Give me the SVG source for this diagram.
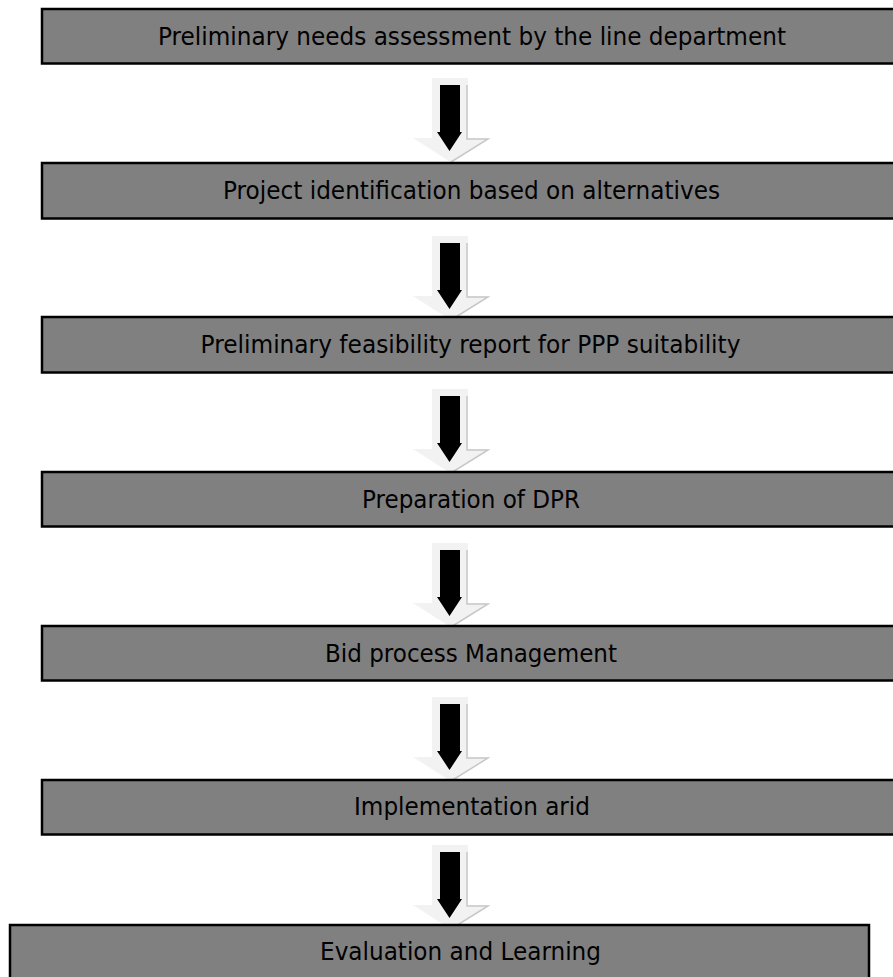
<svg xmlns="http://www.w3.org/2000/svg" width="893" height="977" viewBox="0 0 893 977">
<style>
.box{fill:#808080;stroke:#000;stroke-width:2.5}
.lbl{font-family:"DejaVu Sans",Verdana,sans-serif;font-size:24.5px;fill:#000;text-anchor:middle}
</style>
<defs>
<g id="arrow">
<path d="M19,0 H55 V60 H75 L37.5,84 L0,60 H19 Z" fill="#f2f2f2"/>
<path d="M54,7 V61 L75,61 L38,84" fill="none" stroke="#c8c8c8" stroke-width="1.5"/>
<path d="M27,7 H47 V54 H49 L36.5,73 L24,54 H27 Z" fill="#000"/>
</g>
</defs>
<rect width="893" height="977" fill="#fff"/>
<g id="connectors">
<use href="#arrow" x="413" y="78"/>
<use href="#arrow" x="413" y="236"/>
<use href="#arrow" x="413" y="389"/>
<use href="#arrow" x="413" y="543"/>
<use href="#arrow" x="413" y="697"/>
<use href="#arrow" x="413" y="845"/>
</g>
<g id="n1"><rect class="box" x="42" y="9" width="870" height="54.5"/><text class="lbl" x="472" y="45" textLength="628" lengthAdjust="spacingAndGlyphs">Preliminary needs assessment by the line department</text></g>
<g id="n2"><rect class="box" x="42" y="163" width="870" height="55.5"/><text class="lbl" x="471.5" y="199" textLength="497" lengthAdjust="spacingAndGlyphs">Project identification based on alternatives</text></g>
<g id="n3"><rect class="box" x="42" y="317" width="870" height="55.5"/><text class="lbl" x="470.5" y="353" textLength="540" lengthAdjust="spacingAndGlyphs">Preliminary feasibility report for PPP suitability</text></g>
<g id="n4"><rect class="box" x="42" y="472" width="870" height="54.5"/><text class="lbl" x="471" y="507.5" textLength="218" lengthAdjust="spacingAndGlyphs">Preparation of DPR</text></g>
<g id="n5"><rect class="box" x="42" y="626" width="870" height="54.5"/><text class="lbl" x="471" y="661.5" textLength="292" lengthAdjust="spacingAndGlyphs">Bid process Management</text></g>
<g id="n6"><rect class="box" x="42" y="780" width="870" height="54.5"/><text class="lbl" x="472" y="815" textLength="236" lengthAdjust="spacingAndGlyphs">Implementation arid</text></g>
<g id="n7"><rect class="box" x="10" y="925" width="859" height="60"/><text class="lbl" x="460.5" y="960" textLength="281" lengthAdjust="spacingAndGlyphs">Evaluation and Learning</text></g>
</svg>
